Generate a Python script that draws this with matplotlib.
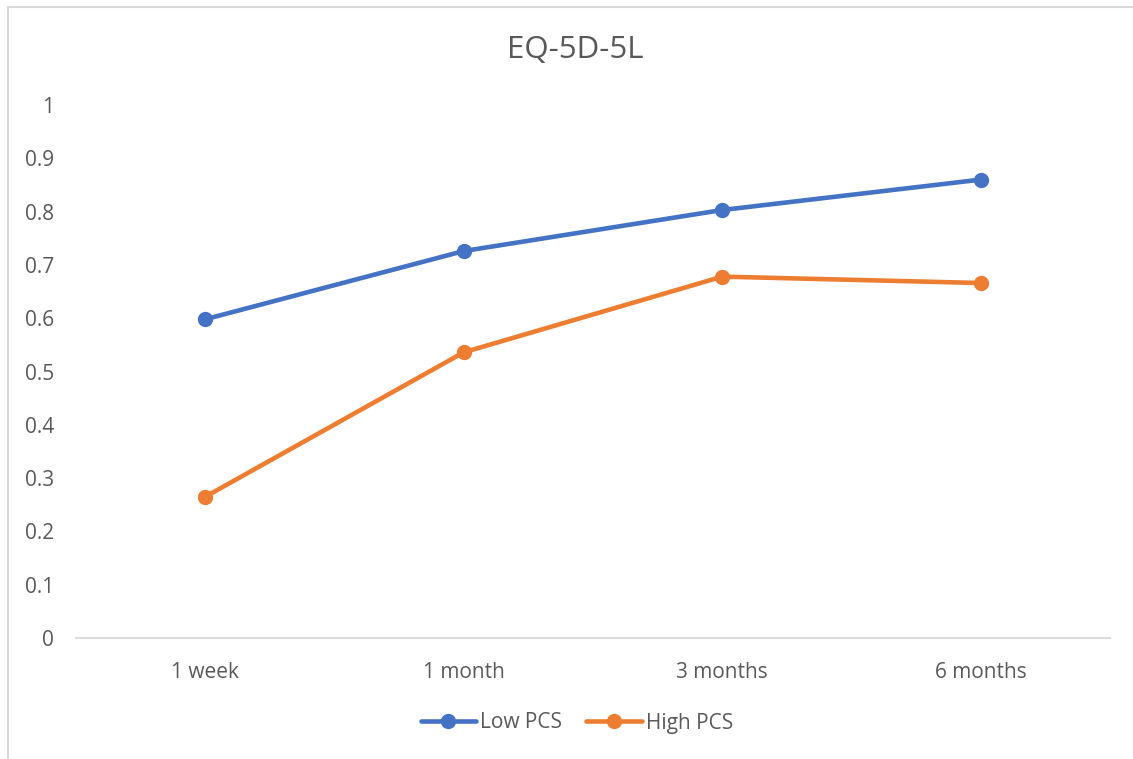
import matplotlib
matplotlib.use("Agg")
import matplotlib.pyplot as plt
from matplotlib.lines import Line2D

categories = ["1 week", "1 month", "3 months", "6 months"]
low_pcs = [0.598, 0.726, 0.803, 0.860]
high_pcs = [0.265, 0.536, 0.678, 0.666]
y_ticks = [0, 0.1, 0.2, 0.3, 0.4, 0.5, 0.6, 0.7, 0.8, 0.9, 1]
y_labels = ["0", "0.1", "0.2", "0.3", "0.4", "0.5", "0.6", "0.7", "0.8", "0.9", "1"]

plt.rcParams['font.family'] = ['Open Sans', 'DejaVu Sans']
W, H = 1133, 759
fig = plt.figure(figsize=(W / 100, H / 100), dpi=100)
fig.patch.set_facecolor("white")
fig.patch.set_linewidth(0)

# chart-area border (only left and top visible)
bx, by = 7.5 / W, 1 - 6.5 / H
fig.add_artist(Line2D([bx, bx], [0, by], transform=fig.transFigure,
                      color="#D9D9D9", linewidth=1.5))
fig.add_artist(Line2D([bx, 1], [by, by], transform=fig.transFigure,
                      color="#D9D9D9", linewidth=1.5))

ax = fig.add_axes([76 / W, 1 - 638 / H, (1110 - 76) / W, (638 - 105) / H])
x = list(range(len(categories)))
text_color = "#595959"
ax.plot(x, low_pcs, color="#4472C4", linewidth=3.3, marker="o", markersize=10,
        label="Low PCS", solid_capstyle="round")
ax.plot(x, high_pcs, color="#ED7D31", linewidth=3.3, marker="o", markersize=10,
        label="High PCS", solid_capstyle="round")

ax.set_xlim(-0.5, len(categories) - 0.5)
ax.set_ylim(0, 1)
ax.set_xticks(x)
ax.set_xticklabels(categories)
ax.set_yticks(y_ticks)
ax.set_yticklabels(y_labels)
ax.tick_params(axis="both", length=0, labelsize=15, labelcolor=text_color)
ax.tick_params(axis="y", pad=16)
ax.tick_params(axis="x", pad=17)
for s in ["top", "right", "left"]:
    ax.spines[s].set_visible(False)
ax.spines["bottom"].set_color("#D9D9D9")
ax.spines["bottom"].set_linewidth(1.3)
for ln in ax.lines:
    ln.set_clip_on(False)

fig.text(575 / W, 1 - 50 / H, "EQ-5D-5L", ha="center", va="center",
         fontsize=22.5, color=text_color)

fig.legend(loc="center", bbox_to_anchor=(577 / W, 1 - 723 / H), ncol=2,
           frameon=False, fontsize=15, labelcolor=text_color,
           handlelength=2.65, handletextpad=0.22, columnspacing=1.15)

fig.savefig("out.png", dpi=100, facecolor="white")
